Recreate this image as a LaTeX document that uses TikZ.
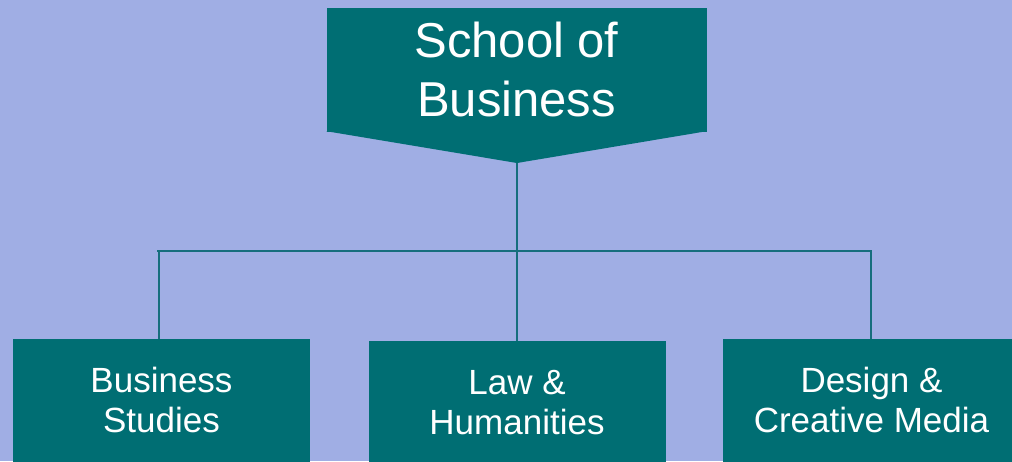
\documentclass[tikz,border=0pt]{standalone}
\usepackage{fontspec}
\setmainfont{Liberation Sans}
\definecolor{bgc}{RGB}{160,174,228}
\definecolor{tealc}{RGB}{0,110,115}
\definecolor{linec}{RGB}{22,110,125}
\begin{document}
\begin{tikzpicture}[x=1pt,y=-1pt,
  unitbox/.style={fill=tealc,text=white,font=\fontsize{35}{40}\selectfont,align=center,
    minimum width=297pt,minimum height=131pt,inner sep=0pt,text height=65pt,text depth=10pt,anchor=north},
  headbox/.style={fill=tealc,text=white,font=\fontsize{49}{59}\selectfont,align=center,
    minimum width=380pt,minimum height=124pt,inner sep=0pt,text height=94pt,text depth=0pt},
  conn/.style={draw=linec,line width=1.5pt}]
\useasboundingbox (0,0) rectangle (1012,461);
\clip (0,0) rectangle (1012,461);
\fill[bgc] (0,0) rectangle (1012,461);
% head
\node[headbox] (school) at (516.5,69.5) {School of\\Business};
\coordinate (tip) at (517,163);
\fill[tealc] ([yshift=0.5pt]school.south west) -- (tip) -- ([yshift=0.5pt]school.south east) -- cycle;
% bus
\coordinate (hubL) at (159,251);
\coordinate (hubM) at (517,251);
\coordinate (hubR) at (871,251);
% units
\node[unitbox] (b1) at (161.5,339) {Business\\Studies};
\node[unitbox] (b2) at (517,341) {Law \&\\Humanities};
\node[unitbox] (b3) at (871.5,339) {Design \&\\Creative Media};
% connectors
\draw[conn] (tip) -- (hubM);
\draw[conn,shorten <=-2pt,shorten >=-1pt] (hubL) -- (hubR);
\draw[conn] (hubL) -- (hubL |- b1.north);
\draw[conn] (hubM) -- (b2.north);
\draw[conn] (hubR) -- (hubR |- b3.north);
\end{tikzpicture}
\end{document}
